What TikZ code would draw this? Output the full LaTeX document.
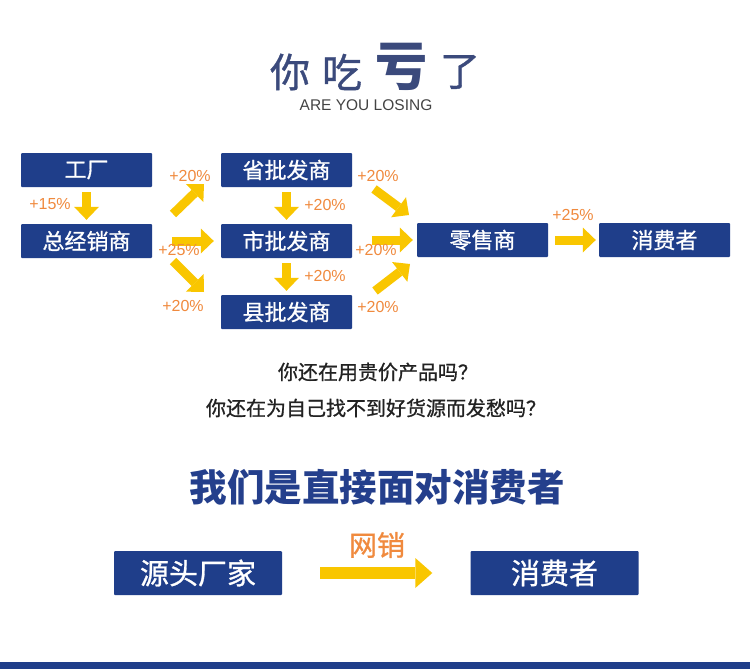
\documentclass[tikz,border=0pt]{standalone}
\usepackage{fontspec}
\setmainfont{Noto Sans CJK SC}
\newfontfamily\cjk{Noto Sans CJK SC}
\newfontfamily\cjkm[FakeBold=0.9]{Noto Sans CJK SC}
\newfontfamily\lat{Liberation Sans}
\usetikzlibrary{arrows.meta}
\definecolor{boxblue}{HTML}{1F3E8A}
\definecolor{titleblue}{HTML}{3B4A7C}
\definecolor{headblue}{HTML}{243F8C}
\definecolor{arrowyellow}{HTML}{F9C600}
\definecolor{pctorange}{HTML}{F08A3E}
\definecolor{qtext}{HTML}{222222}
\tikzset{
  box/.style={fill=boxblue, text=white, minimum width=131pt, minimum height=34pt, inner sep=0pt, rounded corners=1pt, font=\cjkm\fontsize{22}{22}\selectfont},
  bigbox/.style={box, minimum width=168pt, minimum height=44pt, font=\cjkm\fontsize{29}{29}\selectfont},
  yarrow/.style={draw=arrowyellow, line width=9pt, -{Triangle[width=25pt,length=13pt,line width=0pt]}},
  bigarrow/.style={draw=arrowyellow, line width=12pt, -{Triangle[width=30pt,length=17pt,line width=0pt]}},
  pct/.style={text=pctorange, font=\lat\fontsize{16}{16}\selectfont, inner sep=0pt},
  tchar/.style={text=titleblue, inner sep=0pt, font=\cjkm\fontsize{40}{40}\selectfont},
  qline/.style={inner sep=0pt, text=qtext, font=\cjkm\fontsize{20}{20}\selectfont},
}
\begin{document}
\begin{tikzpicture}[x=1pt,y=-1pt]
\useasboundingbox (0,0) rectangle (750,669);
\fill[white] (0,0) rectangle (750,669);
% title
\node[tchar] (t1) at (290,72) {你};
\node[tchar] (t2) at (342,72) {吃};
\node[tchar, font=\cjk\bfseries\fontsize{52}{52}\selectfont] (t3) at (401,67) {亏};
\node[tchar] (t4) at (460,72) {了};
\node[inner sep=0pt, text=qtext!85, font=\lat\fontsize{15.5}{15.5}\selectfont] (sub) at (366,105) {ARE YOU LOSING};
% boxes
\node[box] (gc) at (86.5,170) {工厂};
\node[box] (zjx) at (86.5,241) {总经销商};
\node[box] (sheng) at (286.5,170) {省批发商};
\node[box] (shi) at (286.5,241) {市批发商};
\node[box] (xian) at (286.5,312) {县批发商};
\node[box] (ls) at (482.5,240) {零售商};
\node[box] (xf) at (664.5,240) {消费者};
% arrows
\draw[yarrow, shorten <=5pt, shorten >=4pt] (gc) -- (zjx);
\draw[yarrow, shorten <=5pt, shorten >=4pt] (sheng) -- (shi);
\draw[yarrow, shorten <=5pt, shorten >=4pt] (shi) -- (xian);
\draw[yarrow, shorten <=20pt, shorten >=7pt] (zjx) -- (shi);
\draw[yarrow, shorten <=20pt, shorten >=4pt] (shi.east |- ls) -- (ls);
\draw[yarrow, shorten <=7pt, shorten >=3pt] (ls) -- (xf);
\coordinate (a1s) at (173,214);
\coordinate (a1e) at (204,184);
\coordinate (a2s) at (173,261);
\coordinate (a2e) at (204,292);
\coordinate (a3s) at (374,189);
\coordinate (a3e) at (409,215);
\coordinate (a4s) at (375,291);
\coordinate (a4e) at (410,264);
\draw[yarrow] (a1s) -- (a1e);
\draw[yarrow] (a2s) -- (a2e);
\draw[yarrow] (a3s) -- (a3e);
\draw[yarrow] (a4s) -- (a4e);
% percentages
\node[pct] (p1) at (50,204) {+15\%};
\node[pct] (p2) at (190,176) {+20\%};
\node[pct] (p3) at (179,250) {+25\%};
\node[pct] (p4) at (183,306) {+20\%};
\node[pct] (p5) at (325,205) {+20\%};
\node[pct] (p6) at (325,276) {+20\%};
\node[pct] (p7) at (378,176) {+20\%};
\node[pct] (p8) at (376,250) {+20\%};
\node[pct] (p9) at (378,307) {+20\%};
\node[pct] (p10) at (573,215) {+25\%};
% questions
\node[qline] (q1) at (378,372) {你还在用贵价产品吗？};
\node[qline] (q2) at (376,408) {你还在为自己找不到好货源而发愁吗？};
% heading
\node[inner sep=0pt, text=headblue, font=\cjk\bfseries\fontsize{37.5}{37.5}\selectfont] (hd) at (377,487) {我们是直接面对消费者};
% bottom
\node[bigbox] (yt) at (198,573) {源头厂家};
\node[bigbox] (xf2) at (554.5,573) {消费者};
\draw[bigarrow, shorten <=38pt, shorten >=38pt] (yt) -- (xf2);
\node[inner sep=0pt, text=pctorange, font=\cjkm\fontsize{28}{28}\selectfont] (wx) at (377,545) {网销};
\fill[boxblue] (0,662) rectangle (750,669);
\end{tikzpicture}
\end{document}
